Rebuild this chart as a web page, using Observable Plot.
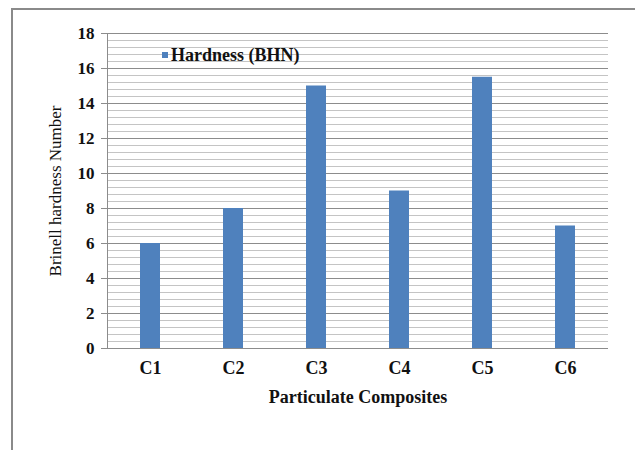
<!DOCTYPE html>
<html>
<head>
<meta charset="utf-8">
<script src="https://cdn.jsdelivr.net/npm/d3@7"></script>
<script src="https://cdn.jsdelivr.net/npm/@observablehq/plot@0.6"></script>
<style>
  html, body { margin: 0; padding: 0; background: #fff; overflow: hidden; }
  #wrap { position: relative; width: 635px; height: 450px; }
  #frame { position: absolute; left: 11px; top: 8px; width: 700px; height: 500px;
           border-top: 2px solid #8a8a8a; border-left: 2px solid #8a8a8a; }
  #chart { position: absolute; left: 0; top: 0; }
  #chart svg text { font-family: "Liberation Serif", serif; }
  #legend { position: absolute; left: 162px; top: 44px; height: 22px; line-height: 22px;
            font-family: "Liberation Serif", serif; font-weight: bold; font-size: 18px; color: #111; white-space: nowrap; }
  #legend .sw { display: inline-block; width: 6px; height: 6px; background: #4F81BD; margin-right: 3px; vertical-align: 3px; }
</style>
</head>
<body>
<div id="wrap">
  <div id="frame"></div>
  <div id="chart"></div>
  <div id="legend"><span class="sw"></span>Hardness (BHN)</div>
</div>
<script>
const categories = ["C1", "C2", "C3", "C4", "C5", "C6"];
const hardness = [6, 8, 15, 9, 15.5, 7];
const yTicks = [0, 2, 4, 6, 8, 10, 12, 14, 16, 18];
const minorStep = 0.4;

const data = categories.map((c, i) => ({cat: c, value: hardness[i]}));
const minor = d3.range(0, 18 + 1e-9, minorStep).filter(v => Math.abs(v / 2 - Math.round(v / 2)) > 1e-6);

const serif = "Liberation Serif";

const chart = Plot.plot({
  width: 635,
  height: 450,
  marginLeft: 107,
  marginRight: 27,
  marginTop: 33,
  marginBottom: 102,
  style: {fontFamily: serif, background: "transparent", color: "#111"},
  x: {domain: categories, paddingInner: 0.76, paddingOuter: 0.38, align: 0.5},
  y: {domain: [0, 18]},
  marks: [
    Plot.ruleY(minor, {stroke: "#c4c4c4", strokeWidth: 1}),
    Plot.ruleY(yTicks, {stroke: "#8c8c8c", strokeWidth: 1}),
    Plot.barY(data, {x: "cat", y: "value", fill: "#4F81BD"}),
    Plot.frame({anchor: "left", stroke: "#8c8c8c"}),
    Plot.axisY({ticks: yTicks, tickSize: 6, tickPadding: 7, stroke: "#8c8c8c", fontSize: 17, fontWeight: "bold", fontFamily: serif, label: null, fill: "#111"}),
    Plot.axisX({tickSize: 0, tickPadding: 13, fontSize: 18, fontWeight: "bold", fontFamily: serif, label: null, fill: "#111"}),
    Plot.text(["Brinell hardness Number"], {frameAnchor: "left", dx: -52, rotate: -90, textAnchor: "middle", lineAnchor: "middle", fontSize: 17, fontFamily: serif, fill: "#111"}),
    Plot.text(["Particulate Composites"], {frameAnchor: "bottom", dy: 49, textAnchor: "middle", lineAnchor: "middle", fontSize: 18, fontWeight: "bold", fontFamily: serif, fill: "#111"})
  ]
});
document.getElementById("chart").appendChild(chart);
</script>
</body>
</html>
